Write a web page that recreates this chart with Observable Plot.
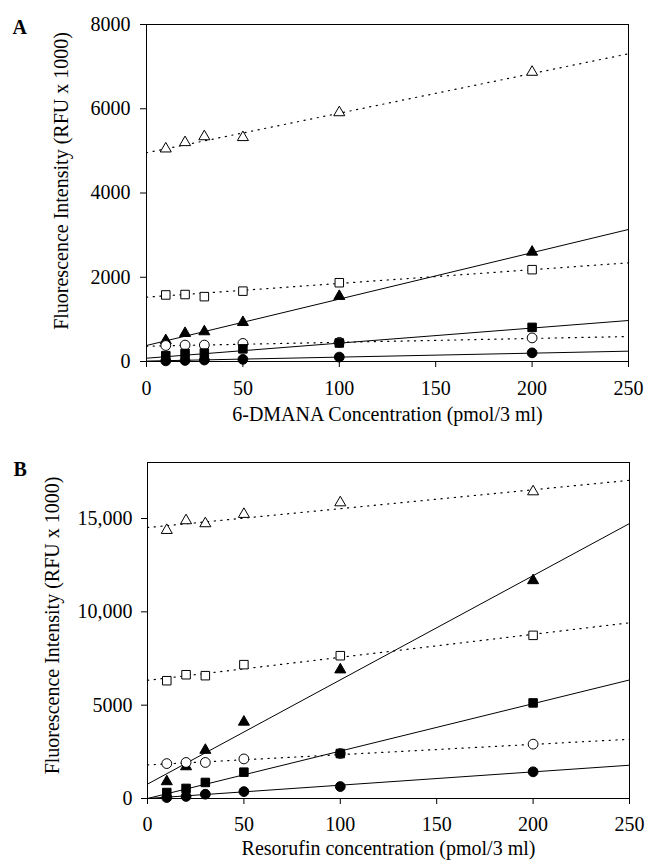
<!DOCTYPE html>
<html><head><meta charset="utf-8">
<script src="https://cdn.jsdelivr.net/npm/d3@7"></script>
<script src="https://cdn.jsdelivr.net/npm/@observablehq/plot@0.6"></script>
<style>
body{margin:0;background:#fff;}
#chart svg{display:block;}
</style>
</head><body>
<div id="chart"></div>
<script>
// Concentrations (pmol/3 ml)
const conc = [10, 20, 30, 50, 100, 200];
const fitX = [0, 250];

// Series definitions
const seriesKeys = ["openTri", "openSq", "fillTri", "openCirc", "fillSq", "fillCirc"];
const seriesSymbol = ["triangle", "square", "triangle", "circle", "square", "circle"];
const seriesFilled = [false, false, true, false, true, true];
const seriesDotted = [true, true, false, true, false, false];

// Panel A: 6-DMANA (RFU x 1000)
const aOpenTri  = [5050, 5200, 5340, 5320, 5910, 6870];
const aOpenSq   = [1580, 1590, 1540, 1670, 1870, 2180];
const aFillTri  = [500, 670, 710, 930, 1550, 2600];
const aOpenCirc = [380, 390, 390, 430, 455, 560];
const aFillSq   = [140, 190, 200, 300, 440, 810];
const aFillCirc = [15, 25, 35, 50, 105, 205];
const aFitStart = [4955, 1527, 380, 364, 78, 10];
const aFitEnd   = [7305, 2343, 3134, 593, 973, 245];

// Panel B: Resorufin (RFU x 1000)
const bOpenTri  = [14370, 14890, 14730, 15230, 15850, 16440];
const bOpenSq   = [6310, 6630, 6580, 7170, 7650, 8740];
const bFillTri  = [910, 1710, 2590, 4100, 6900, 11680];
const bOpenCirc = [1870, 1930, 1930, 2120, 2410, 2910];
const bFillSq   = [320, 540, 860, 1410, 2410, 5120];
const bFillCirc = [50, 110, 230, 370, 640, 1430];
const bFitStart = [14515, 6330, 770, 1800, 0, 0];
const bFitEnd   = [17047, 9414, 14730, 3174, 6350, 1783];

// Tick values / labels
const xTicks = [0, 50, 100, 150, 200, 250];
const aYTicks = [0, 2000, 4000, 6000, 8000];
const bYTicks = [0, 5000, 10000, 15000];
const bYTickLabels = ["0", "5000", "10,000", "15,000"];

const yLabel = "Fluorescence Intensity (RFU x 1000)";
const FS = 20;

function buildPanel(cfg) {
  const pts = [];
  const fits = [];
  seriesKeys.forEach((k, i) => {
    cfg.values[i].forEach((v, j) => pts.push({series: k, x: conc[j], y: v}));
    fits.push({series: k, x: fitX[0], y: cfg.fitStart[i]});
    fits.push({series: k, x: fitX[1], y: cfg.fitEnd[i]});
  });
  const marks = [];
  seriesKeys.forEach((k, i) => {
    marks.push(Plot.line(fits.filter(d => d.series === k), {
      x: "x", y: "y", stroke: "#000",
      strokeWidth: seriesDotted[i] ? 1.2 : 1,
      strokeDasharray: seriesDotted[i] ? "1.2,5.5" : null
    }));
  });
  seriesKeys.forEach((k, i) => {
    const sym = seriesSymbol[i];
    const r = sym === "triangle" ? 4.1 : sym === "square" ? 4.8 : 4.9;
    marks.push(Plot.dot(pts.filter(d => d.series === k), {
      x: "x", y: "y", symbol: sym, r,
      fill: seriesFilled[i] ? "#000" : "#fff",
      stroke: "#000", strokeWidth: 1
    }));
  });
  return Plot.plot({
    width: 648, height: cfg.height,
    marginLeft: cfg.ml, marginRight: cfg.mr, marginTop: cfg.mt, marginBottom: cfg.mb,
    style: {fontFamily: "'Liberation Serif', 'Times New Roman', serif", fontSize: FS + "px", color: "#000", background: "#fff"},
    x: {domain: [0, 250]},
    y: {domain: cfg.yDomain},
    marks: [
      Plot.axisX({ticks: xTicks, tickSize: 6, tickPadding: cfg.xPad, tickFormat: d => String(d), label: null, fontSize: FS}),
      Plot.axisY({ticks: cfg.yTicks, tickSize: 6, tickPadding: cfg.yPad, tickFormat: cfg.yFormat, label: null, fontSize: FS}),
      ...marks,
      Plot.frame({stroke: "#000", strokeWidth: 1}),
      Plot.text([yLabel], {frameAnchor: "left", text: d => d, rotate: -90, dx: cfg.yLabelDx, dy: cfg.yLabelDy, fontSize: FS, textAnchor: "middle", lineAnchor: "middle"}),
      Plot.text([cfg.xLabel], {frameAnchor: "bottom", text: d => d, dy: cfg.xLabelDy, fontSize: FS, textAnchor: "middle", lineAnchor: "middle"}),
      Plot.text([cfg.letter], {frameAnchor: "top-left", text: d => d, dx: cfg.letterDx, dy: cfg.letterDy, fontSize: 20, fontWeight: "bold", textAnchor: "start", lineAnchor: "middle"})
    ]
  });
}

const chartA = buildPanel({
  height: 430, ml: 146, mr: 20, mt: 24, mb: 69,
  yDomain: [0, 8000], yTicks: aYTicks, yFormat: d => String(d),
  xPad: 13, yPad: 10,
  values: [aOpenTri, aOpenSq, aFillTri, aOpenCirc, aFillSq, aFillCirc],
  fitStart: aFitStart, fitEnd: aFitEnd,
  xLabel: "6-DMANA Concentration (pmol/3 ml)",
  yLabelDx: -85, yLabelDy: -12, xLabelDy: 53,
  letter: "A", letterDx: -134, letterDy: 3
});

const chartB = buildPanel({
  height: 435, ml: 147, mr: 19, mt: 32, mb: 67,
  yDomain: [0, 18000], yTicks: bYTicks, yFormat: d => bYTickLabels[bYTicks.indexOf(d)],
  xPad: 12, yPad: 9,
  values: [bOpenTri, bOpenSq, bFillTri, bOpenCirc, bFillSq, bFillCirc],
  fitStart: bFitStart, fitEnd: bFitEnd,
  xLabel: "Resorufin concentration (pmol/3 ml)",
  yLabelDx: -95, yLabelDy: -5, xLabelDy: 50,
  letter: "B", letterDx: -134, letterDy: 7
});

document.getElementById("chart").append(chartA, chartB);
</script>
</body></html>
